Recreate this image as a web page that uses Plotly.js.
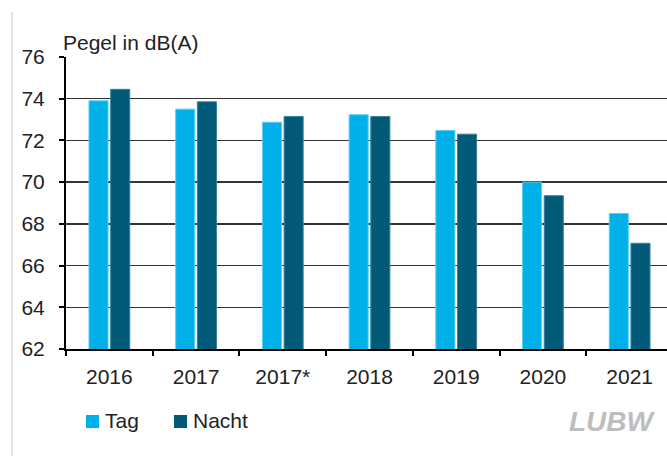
<!DOCTYPE html>
<html>
<head>
<meta charset="utf-8">
<script src="https://cdn.plot.ly/plotly-3.0.1.min.js"></script>
<style>
html, body { margin: 0; padding: 0; overflow: hidden; background: #fff; width: 667px; height: 456px; }
#chart { width: 673px; height: 456px; }
</style>
</head>
<body>
<div id="chart"></div>
<script>
const categories = ["2016", "2017", "2017*", "2018", "2019", "2020", "2021"];
const tagValues = [73.9, 73.5, 72.87, 73.23, 72.48, 70.0, 68.5];
const nachtValues = [74.45, 73.85, 73.15, 73.15, 72.3, 69.35, 67.07];
const seriesNames = ["Tag", "Nacht"];
const seriesColors = ["#00b0e8", "#005a78"];
const seriesEdges = ["#5fcdf0", "#3a8099"];
const yTicks = [62, 64, 66, 68, 70, 72, 74, 76];

const FONT = "Liberation Sans, Arial, sans-serif";
const TXT = "#222";
const FS = 21;

const W = 673, H = 456, ML = 66, MR = 0, MT = 57, MB = 107;
const PW = W - ML - MR, PH = H - MT - MB;
const px = v => (v - ML) / PW;          // page x -> paper x
const py = v => (H - MB - v) / PH;      // page y -> paper y

const traces = [tagValues, nachtValues].map((vals, i) => ({
  type: "bar", name: seriesNames[i], x: categories, y: vals,
  marker: { color: seriesColors[i], line: { color: seriesEdges[i], width: 1 } },
  hoverinfo: "x+y", showlegend: false
}));

// legend built from series names/colours
const legendSquareX = [86, 174];
const legendShapes = seriesNames.map((n, i) => ({
  type: "rect", xref: "paper", yref: "paper",
  x0: px(legendSquareX[i]), x1: px(legendSquareX[i] + 13),
  y0: py(428), y1: py(415),
  fillcolor: seriesColors[i], line: { width: 0 }
}));
const legendTexts = seriesNames.map((n, i) => ({
  text: n, xref: "paper", yref: "paper",
  x: px(legendSquareX[i] + 17), y: py(420),
  xanchor: "left", yanchor: "middle", showarrow: false,
  font: { family: FONT, size: FS, color: TXT }
}));

const layout = {
  width: W, height: H,
  margin: { l: ML, r: MR, t: MT, b: MB, pad: 0 },
  paper_bgcolor: "#fff", plot_bgcolor: "#fff",
  barmode: "group", bargap: 0.5, bargroupgap: 0.12,
  font: { family: FONT, size: FS, color: TXT },
  showlegend: false,
  xaxis: {
    type: "category", tickson: "boundaries",
    ticks: "outside", ticklen: 5, tickwidth: 2, tickcolor: "#000",
    showline: true, linecolor: "#000", linewidth: 2,
    showgrid: false, ticklabelstandoff: 8,
    tickfont: { family: FONT, size: FS, color: TXT },
    fixedrange: true
  },
  yaxis: {
    range: [62, 76], tickvals: yTicks, ticktext: yTicks.map(String),
    ticks: "outside", ticklen: 5, tickwidth: 2, tickcolor: "#000",
    showline: true, linecolor: "#000", linewidth: 2,
    showgrid: true, gridcolor: "#333", gridwidth: 1.3,
    zeroline: false, ticklabelstandoff: 10,
    tickfont: { family: FONT, size: FS, color: TXT },
    fixedrange: true
  },
  annotations: [
    {
      text: "Pegel in dB(A)", xref: "paper", yref: "paper", x: 0, y: 1,
      xanchor: "left", yanchor: "bottom", xshift: -5, yshift: 1, showarrow: false,
      font: { family: FONT, size: FS, color: TXT }
    },
    {
      text: "<b><i>LUBW</i></b>", xref: "paper", yref: "paper", x: px(658), y: py(421),
      xanchor: "right", yanchor: "middle", showarrow: false,
      font: { family: FONT, size: 28, color: "#bdbdbd" }
    }
  ].concat(legendTexts),
  shapes: [
    {
      type: "line", xref: "paper", yref: "paper",
      x0: px(12), x1: px(12), y0: py(456), y1: py(12),
      line: { color: "#c8c8c8", width: 1 }
    }
  ].concat(legendShapes)
};

Plotly.newPlot("chart", traces, layout, { displayModeBar: false, staticPlot: true });
</script>
</body>
</html>
